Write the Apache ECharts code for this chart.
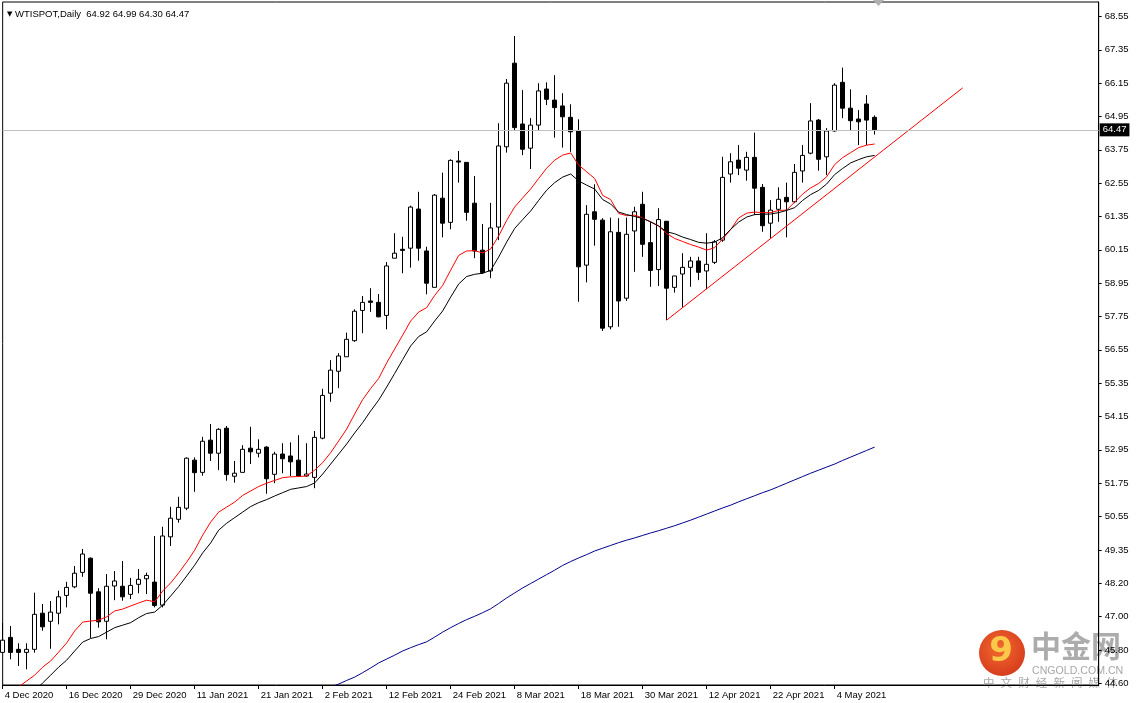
<!DOCTYPE html>
<html>
<head>
<meta charset="utf-8">
<title>WTISPOT Daily</title>
<script src="https://cdn.jsdelivr.net/npm/echarts@6/dist/echarts.min.js"></script>
<style>
  html, body { margin: 0; padding: 0; background: #fff; }
  #main { width: 1136px; height: 703px; }
</style>
</head>
<body>
<div id="main"></div>
<script>
// trading days shown on the chart
const dates = [
  '4 Dec 2020','7 Dec 2020','8 Dec 2020','9 Dec 2020','10 Dec 2020','11 Dec 2020','14 Dec 2020','15 Dec 2020','16 Dec 2020','17 Dec 2020',
  '18 Dec 2020','21 Dec 2020','22 Dec 2020','23 Dec 2020','24 Dec 2020','28 Dec 2020','29 Dec 2020','30 Dec 2020','31 Dec 2020','4 Jan 2021',
  '5 Jan 2021','6 Jan 2021','7 Jan 2021','8 Jan 2021','11 Jan 2021','12 Jan 2021','13 Jan 2021','14 Jan 2021','15 Jan 2021','18 Jan 2021',
  '19 Jan 2021','20 Jan 2021','21 Jan 2021','22 Jan 2021','25 Jan 2021','26 Jan 2021','27 Jan 2021','28 Jan 2021','29 Jan 2021','1 Feb 2021',
  '2 Feb 2021','3 Feb 2021','4 Feb 2021','5 Feb 2021','8 Feb 2021','9 Feb 2021','10 Feb 2021','11 Feb 2021','12 Feb 2021','15 Feb 2021',
  '16 Feb 2021','17 Feb 2021','18 Feb 2021','19 Feb 2021','22 Feb 2021','23 Feb 2021','24 Feb 2021','25 Feb 2021','26 Feb 2021','1 Mar 2021',
  '2 Mar 2021','3 Mar 2021','4 Mar 2021','5 Mar 2021','8 Mar 2021','9 Mar 2021','10 Mar 2021','11 Mar 2021','12 Mar 2021','15 Mar 2021',
  '16 Mar 2021','17 Mar 2021','18 Mar 2021','19 Mar 2021','22 Mar 2021','23 Mar 2021','24 Mar 2021','25 Mar 2021','26 Mar 2021','29 Mar 2021',
  '30 Mar 2021','31 Mar 2021','1 Apr 2021','5 Apr 2021','6 Apr 2021','7 Apr 2021','8 Apr 2021','9 Apr 2021','12 Apr 2021','13 Apr 2021',
  '14 Apr 2021','15 Apr 2021','16 Apr 2021','19 Apr 2021','20 Apr 2021','21 Apr 2021','22 Apr 2021','23 Apr 2021','26 Apr 2021','27 Apr 2021',
  '28 Apr 2021','29 Apr 2021','30 Apr 2021','3 May 2021','4 May 2021','5 May 2021','6 May 2021','7 May 2021','10 May 2021','11 May 2021'
];
const futureSlots = 28; // empty chart-shift area on the right

const openP = [
  45.66,46.20,45.77,45.66,45.77,47.07,46.78,47.07,47.71,48.02,
  48.54,49.05,47.84,46.78,48.05,48.04,47.75,48.11,48.31,48.19,
  47.36,49.82,50.45,50.85,52.58,52.14,53.30,52.83,53.73,52.00,
  52.14,53.01,52.83,53.05,52.07,52.80,52.73,52.58,52.01,51.96,
  53.37,54.99,55.78,56.30,56.88,57.97,58.31,58.26,57.79,59.85,
  60.17,60.21,61.62,60.11,58.80,62.01,61.14,63.35,63.30,61.83,
  60.14,59.39,60.97,63.86,66.87,64.68,63.81,64.64,65.94,65.54,
  65.33,64.92,64.43,59.60,61.52,61.22,57.38,60.78,58.41,60.83,
  61.79,60.41,59.44,61.18,58.80,59.28,59.52,59.75,59.39,59.70,
  60.50,62.88,63.38,63.02,63.48,62.40,61.11,61.61,62.04,61.88,
  62.99,63.63,64.82,63.50,64.43,66.18,65.25,64.86,65.40,64.92
];
const highP = [
  46.72,46.61,45.99,45.99,47.81,47.40,47.51,47.88,48.20,48.77,
  49.38,49.08,47.97,48.48,48.59,48.95,48.34,48.66,48.53,49.85,
  50.18,50.90,51.26,52.68,52.68,53.42,53.88,53.73,53.81,52.55,
  53.12,53.78,53.33,53.08,52.88,53.19,53.22,53.48,53.19,53.63,
  55.15,56.18,56.43,57.17,58.01,58.49,58.77,58.56,59.71,60.75,
  60.62,61.74,62.24,60.26,62.16,62.93,63.41,63.71,63.30,62.81,
  61.08,61.84,64.71,66.30,67.85,65.90,64.89,66.15,66.18,66.44,
  65.79,65.39,64.85,61.76,62.51,61.29,61.31,61.29,61.31,61.70,
  62.24,61.16,61.65,61.18,59.21,60.03,59.90,59.90,60.75,60.50,
  63.50,63.63,63.92,63.68,64.37,62.52,61.94,62.40,62.57,63.24,
  63.92,65.43,64.86,64.53,66.15,66.71,65.93,65.18,65.72,64.99
];
const lowP = [
  45.64,45.41,45.17,45.05,45.65,46.44,45.79,46.67,47.28,47.97,
  48.38,46.18,46.55,46.13,47.54,47.52,47.58,47.79,47.76,47.28,
  47.28,49.49,50.33,50.78,51.44,52.02,52.55,52.22,51.84,51.77,
  52.14,52.44,52.68,51.37,51.75,52.11,52.01,51.98,51.98,51.57,
  53.33,54.68,55.17,56.30,56.84,57.15,57.92,57.72,57.29,59.85,
  59.31,59.51,59.76,58.55,58.80,60.60,60.89,62.57,61.20,59.85,
  59.28,59.13,60.50,63.65,64.43,63.56,63.06,64.46,65.36,64.19,
  63.83,63.68,58.28,58.98,60.30,57.23,57.29,57.38,58.31,59.36,
  59.90,58.82,58.85,57.62,58.61,58.08,58.82,59.06,58.73,59.64,
  60.44,62.57,62.84,62.64,61.40,60.80,60.57,61.16,60.60,61.83,
  62.57,63.59,63.00,62.84,64.40,64.89,64.44,63.92,63.92,64.30
];
const closeP = [
  46.10,45.66,45.66,45.77,47.03,46.58,47.11,47.66,48.00,48.51,
  49.20,47.79,46.76,48.04,48.23,47.66,48.07,48.29,48.43,47.35,
  49.85,50.49,50.88,52.65,52.13,53.26,52.83,53.69,52.06,52.11,
  52.97,52.88,52.97,51.91,52.80,52.63,52.52,52.01,52.08,53.40,
  54.91,55.82,56.33,56.93,57.94,58.26,58.26,57.74,59.57,60.03,
  60.13,61.69,60.21,58.95,62.12,61.11,63.37,63.31,61.50,60.11,
  59.33,60.94,63.89,66.15,64.55,63.77,64.64,65.87,65.57,65.27,
  64.94,64.40,59.54,61.43,61.25,57.33,60.80,58.31,60.71,61.52,
  60.35,59.41,61.24,58.77,59.21,59.52,59.75,59.34,59.63,60.44,
  62.76,63.32,63.09,63.48,62.37,61.02,61.58,61.97,61.88,62.94,
  63.55,64.79,63.41,64.43,66.08,65.25,64.80,64.76,64.82,64.47
];

// moving averages as drawn on the chart
const maRed = [
  43.94,44.16,44.42,44.63,44.84,45.13,45.35,45.67,46.00,46.43,
  46.75,46.79,46.82,46.94,47.15,47.22,47.33,47.44,47.54,47.48,
  47.87,48.16,48.52,48.91,49.34,49.88,50.35,50.71,50.89,51.07,
  51.31,51.47,51.63,51.75,51.85,51.95,51.98,51.99,52.01,52.22,
  52.49,52.85,53.27,53.70,54.24,54.76,55.16,55.52,56.08,56.58,
  57.08,57.59,57.91,58.07,58.51,58.87,59.42,59.95,60.11,60.12,
  60.04,60.18,60.65,61.21,61.69,62.02,62.34,62.72,63.09,63.38,
  63.56,63.64,63.20,62.96,62.72,62.11,61.96,61.46,61.38,61.40,
  61.30,61.15,61.01,60.74,60.56,60.45,60.34,60.25,60.14,60.23,
  60.54,60.88,61.30,61.47,61.51,61.49,61.49,61.57,61.58,61.87,
  62.16,62.38,62.54,62.78,63.22,63.47,63.65,63.83,63.92,63.96
];
const maBlack = [
  43.22,43.58,43.76,44.02,44.27,44.56,44.84,45.13,45.38,45.71,
  46.03,46.16,46.23,46.39,46.55,46.64,46.73,46.91,47.06,47.11,
  47.36,47.69,48.03,48.41,48.80,49.24,49.60,50.06,50.31,50.51,
  50.71,50.91,51.05,51.16,51.29,51.41,51.53,51.58,51.63,51.76,
  52.08,52.44,52.80,53.16,53.56,53.93,54.35,54.74,55.21,55.70,
  56.20,56.69,57.03,57.20,57.59,57.95,58.45,58.92,59.19,59.27,
  59.31,59.41,59.89,60.43,60.92,61.24,61.55,61.93,62.30,62.57,
  62.77,62.88,62.63,62.48,62.34,61.96,61.80,61.51,61.42,61.35,
  61.28,61.16,61.01,60.80,60.73,60.61,60.52,60.42,60.39,60.43,
  60.59,60.89,61.15,61.33,61.42,61.43,61.44,61.49,61.57,61.67,
  61.93,62.14,62.29,62.52,62.86,63.08,63.28,63.40,63.50,63.55
];
const maBlueStart = 40; // the long average enters the view here
const maBlue = [
  44.30,44.41,44.52,44.65,44.77,44.93,45.10,45.28,45.42,45.56,
  45.71,45.83,45.94,46.04,46.21,46.39,46.55,46.70,46.84,46.96,
  47.09,47.23,47.42,47.62,47.80,47.98,48.14,48.30,48.46,48.62,
  48.79,48.93,49.06,49.18,49.31,49.41,49.51,49.61,49.70,49.78,
  49.87,49.96,50.04,50.13,50.22,50.32,50.42,50.53,50.64,50.75,
  50.86,50.96,51.08,51.19,51.30,51.41,51.51,51.63,51.75,51.87,
  51.99,52.11,52.22,52.33,52.44,52.57,52.69,52.81,52.93,53.05
];

// hand-drawn support line
const trendIdx = [83, 120];
const trendVal = [57.62, 65.98];

// price scale labels (MT4 rounds the lower ones)
const tickValues = [68.55,67.35,66.15,64.95,63.75,62.55,61.35,60.15,58.95,57.75,56.55,55.35,54.15,52.95,51.75,50.55,49.35,48.15,46.95,45.75,44.55];
const tickLabels = ['68.55','67.35','66.15','64.95','63.75','62.55','61.35','60.15','58.95','57.75','56.55','55.35','54.15','52.95','51.75','50.55','49.35','48.20','47.00','45.80','44.60'];

// watermark text
const brandName = '中金网';
const brandSite = 'CNGOLD.COM.CN';
const brandSlogan = ['中', '文', '财', '经', '新', '闻', '媒', '体'];

const categories = dates.concat(new Array(futureSlots).fill(''));
const candles = dates.map((d, i) => [openP[i], closeP[i], lowP[i], highP[i]]);
const blueData = categories.map((d, i) => (i >= maBlueStart && i - maBlueStart < maBlue.length) ? maBlue[i - maBlueStart] : '-');
const trendData = categories.map((d, i) => {
  const k = trendIdx.indexOf(i);
  return k >= 0 ? trendVal[k] : '-';
});
const last = dates.length - 1;
const lastClose = closeP[last];
const font = 'Liberation Sans, Arial, sans-serif';

const chart = echarts.init(document.getElementById('main'), null, { renderer: 'canvas' });

const sloganTexts = brandSlogan.map((ch, k) => ({
  type: 'text', x: 983 + k * 17.6, y: 677,
  style: { text: ch, fontSize: 11.5, fontFamily: 'Noto Sans CJK SC', fill: '#a6a6a6' }
}));

const option = {
  backgroundColor: '#ffffff',
  animation: false,
  textStyle: { fontFamily: font },
  title: {
    left: 2,
    top: 4,
    text: '{tri|▼} WTISPOT,Daily  ' + [openP[last], highP[last], lowP[last], closeP[last]].map(v => v.toFixed(2)).join(' '),
    textStyle: {
      fontSize: 9.5, fontWeight: 'normal', color: '#000', fontFamily: font,
      rich: { tri: { fontSize: 7, color: '#000', fontFamily: 'DejaVu Sans' } }
    }
  },
  grid: {
    left: 2.67, right: 37.33, top: 2, bottom: 18,
    show: true, borderColor: '#000', borderWidth: 1, backgroundColor: 'transparent',
    containLabel: false, outerBoundsMode: 'none'
  },
  xAxis: {
    type: 'category',
    data: categories,
    boundaryGap: false,
    axisLine: { lineStyle: { color: '#000', width: 1 } },
    axisTick: {
      length: 4,
      interval: (i, v) => v !== '' && i % 8 === 0,
      lineStyle: { color: '#000' }
    },
    axisLabel: {
      interval: (i, v) => v !== '' && i % 8 === 0,
      align: 'left',
      margin: 5,
      padding: [0, 0, 0, 2],
      color: '#000',
      fontSize: 9.5,
      fontFamily: font
    },
    splitLine: { show: false }
  },
  yAxis: {
    type: 'value',
    position: 'right',
    min: 44.486,
    max: 69.072,
    axisLine: { show: true, lineStyle: { color: '#000', width: 1 } },
    axisTick: { show: true, length: 3, customValues: tickValues, lineStyle: { color: '#000' } },
    axisLabel: {
      customValues: tickValues,
      margin: 6,
      color: '#000',
      fontSize: 9.5,
      fontFamily: font,
      formatter: function (v) {
        let best = 0;
        for (let k = 1; k < tickValues.length; k++) {
          if (Math.abs(tickValues[k] - v) < Math.abs(tickValues[best] - v)) best = k;
        }
        return tickLabels[best];
      }
    },
    splitLine: { show: false }
  },
  series: [
    {
      name: 'WTISPOT',
      type: 'candlestick',
      data: candles,
      barWidth: 4,
      clip: false,
      itemStyle: {
        color: '#ffffff',
        color0: '#000000',
        borderColor: '#000000',
        borderColor0: '#000000',
        borderWidth: 1
      },
      markLine: {
        silent: true,
        symbol: ['none', 'none'],
        animation: false,
        lineStyle: { color: '#c0c0c0', type: 'solid', width: 1 },
        label: {
          position: 'end',
          distance: 1,
          formatter: lastClose.toFixed(2),
          color: '#fff',
          backgroundColor: '#000',
          padding: [2, 3, 1, 3],
          fontSize: 9.5,
          fontFamily: font
        },
        data: [{ yAxis: lastClose }]
      },
      z: 2
    },
    {
      name: 'MA fast', type: 'line', data: maRed, symbol: 'none', smooth: false,
      lineStyle: { color: '#ff0000', width: 1 }, z: 3
    },
    {
      name: 'MA slow', type: 'line', data: maBlack, symbol: 'none', smooth: false,
      lineStyle: { color: '#000000', width: 1 }, z: 3
    },
    {
      name: 'MA long', type: 'line', data: blueData, symbol: 'none', smooth: false,
      lineStyle: { color: '#00008b', width: 1 }, z: 3
    },
    {
      name: 'trend', type: 'line', data: trendData, symbol: 'none', connectNulls: true,
      lineStyle: { color: '#ff0000', width: 1 }, z: 4
    }
  ],
  graphic: [
    { // chart shift marker
      type: 'polygon', silent: true, z: 10,
      shape: { points: [[873, 0], [884, 0], [878.5, 6]] },
      style: { fill: '#b0b0b0' }
    },
    { // watermark logo
      type: 'group', silent: true, z: 20,
      children: [
        {
          type: 'circle', shape: { cx: 1002, cy: 653, r: 23 },
          style: {
            fill: new echarts.graphic.RadialGradient(0.45, 0.4, 0.7, [
              { offset: 0, color: '#f26a2e' }, { offset: 1, color: '#d2361a' }
            ])
          }
        },
        {
          type: 'text', x: 1001, y: 652,
          style: {
            text: '9', fontSize: 34, fontWeight: 'bold', fontFamily: 'DejaVu Sans',
            fill: '#fbc84a', align: 'center', verticalAlign: 'middle'
          }
        },
        {
          type: 'text', x: 1031, y: 631,
          style: { text: brandName, fontSize: 30, fontWeight: 'bold', fontFamily: 'Noto Sans CJK SC', fill: '#a8a8a8', opacity: 0.95 }
        },
        {
          type: 'text', x: 1032, y: 666,
          style: { text: brandSite, fontSize: 10.6, fontFamily: font, fill: '#a8a8a8' }
        }
      ].concat(sloganTexts)
    }
  ]
};

chart.setOption(option);
</script>
</body>
</html>
